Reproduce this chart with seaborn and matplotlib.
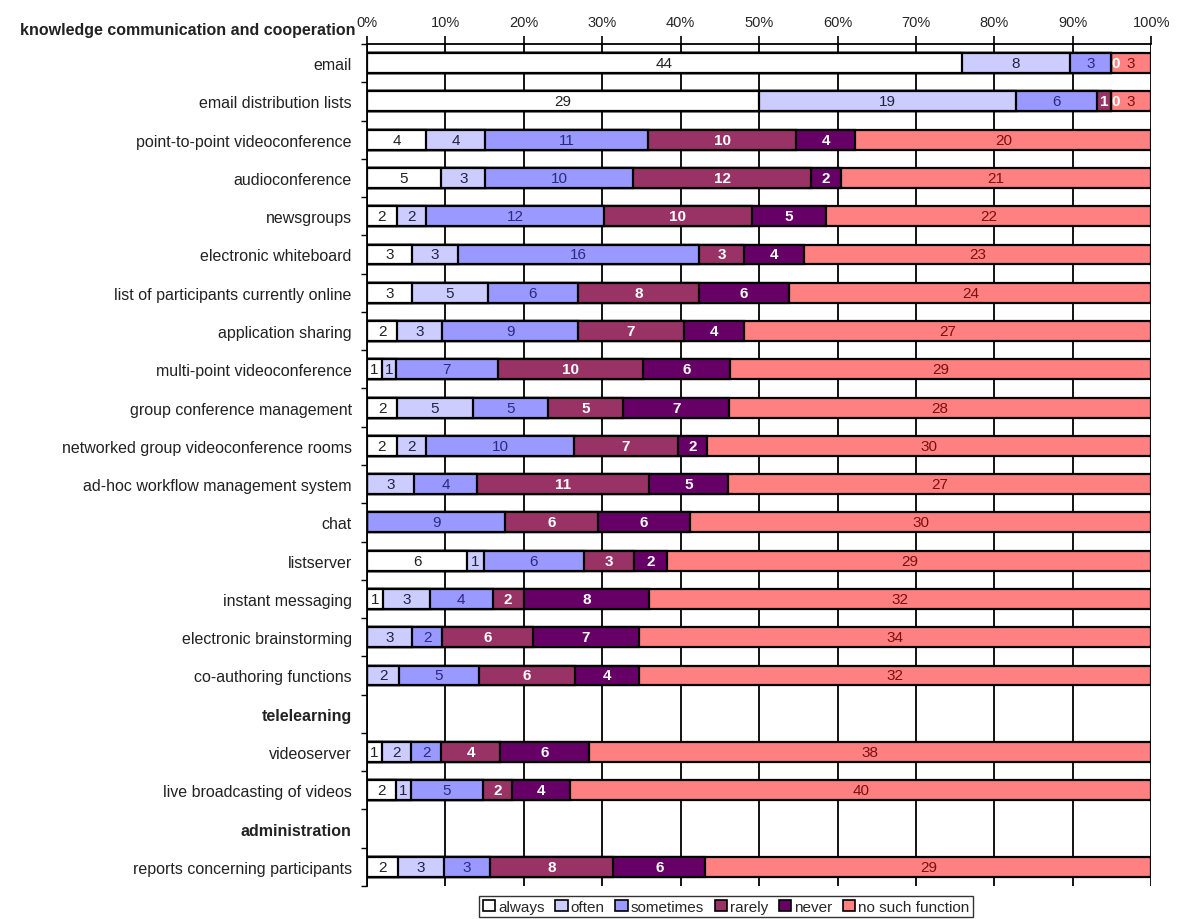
import numpy as np
import pandas as pd
import matplotlib
matplotlib.use("Agg")
import matplotlib.pyplot as plt
from matplotlib.patches import Patch
from matplotlib.ticker import FixedLocator
import seaborn as sns

categories = [
    "email", "email distribution lists", "point-to-point videoconference",
    "audioconference", "newsgroups", "electronic whiteboard",
    "list of participants currently online", "application sharing",
    "multi-point videoconference", "group conference management",
    "networked group videoconference rooms", "ad-hoc workflow management system",
    "chat", "listserver", "instant messaging", "electronic brainstorming",
    "co-authoring functions", "telelearning", "videoserver",
    "live broadcasting of videos", "administration",
    "reports concerning participants",
]
group_rows = ["telelearning", "administration"]
top_header = "knowledge communication and cooperation"

series = ["always", "often", "sometimes", "rarely", "never", "no such function"]
nan = np.nan
always    = [44, 29, 4, 5, 2, 3, 3, 2, 1, 2, 2, 0, 0, 6, 1, 0, 0, nan, 1, 2, nan, 2]
often     = [8, 19, 4, 3, 2, 3, 5, 3, 1, 5, 2, 3, 0, 1, 3, 3, 2, nan, 2, 1, nan, 3]
sometimes = [3, 6, 11, 10, 12, 16, 6, 9, 7, 5, 10, 4, 9, 6, 4, 2, 5, nan, 2, 5, nan, 3]
rarely    = [0, 1, 10, 12, 10, 3, 8, 7, 10, 5, 7, 11, 6, 3, 2, 6, 6, nan, 4, 2, nan, 8]
never     = [0, 0, 4, 2, 5, 4, 6, 4, 6, 7, 2, 5, 6, 2, 8, 7, 4, nan, 6, 4, nan, 6]
no_such   = [3, 3, 20, 21, 22, 23, 24, 27, 29, 28, 30, 27, 30, 29, 32, 34, 32, nan, 38, 40, nan, 29]

colors = ["#ffffff", "#ccccff", "#9999ff", "#993366", "#660066", "#ff8080"]
text_colors = ["#222222", "#222244", "#2a2a80", "#ffffff", "#ffffff", "#7a1010"]
text_weights = ["normal", "normal", "normal", "bold", "bold", "normal"]
show_zero = {"never"}

df = pd.DataFrame({"category": categories, "always": always, "often": often,
                   "sometimes": sometimes, "rarely": rarely, "never": never,
                   "no such function": no_such})
vals = df[series].to_numpy(dtype=float)
tot = vals.sum(axis=1, keepdims=True)
pct = vals / tot * 100
cum = np.cumsum(pct, axis=1)
for i, s in enumerate(series):
    df["cum_" + s] = cum[:, i]

sns.set_theme(style="white")
plt.rcParams["font.family"] = ["Liberation Sans", "DejaVu Sans"]

fig = plt.figure(figsize=(11.79, 9.2), dpi=100)
ax = fig.add_axes([0.3113, 0.0359, 0.6652, 0.9152])

for i in range(len(series) - 1, -1, -1):
    s = series[i]
    sns.barplot(data=df, x="cum_" + s, y="category", order=categories,
                orient="h", color=colors[i], saturation=1, edgecolor="black",
                linewidth=1.6, width=0.52, ax=ax, zorder=3)

# value labels
for r in range(len(categories)):
    if np.isnan(tot[r, 0]):
        continue
    left = 0.0
    for i, s in enumerate(series):
        v = vals[r, i]
        w = pct[r, i]
        if v > 0 or s in show_zero:
            ax.text(left + w / 2 if v > 0 else left + 0.6, r, f"{int(v)}",
                    ha="center", va="center", fontsize=11,
                    color=text_colors[i], fontweight=text_weights[i], zorder=5)
        left += w

ax.set_xlim(0, 100)
ax.set_ylim(len(categories) - 0.5, -0.5)
ax.xaxis.tick_top()
ax.set_xticks(np.arange(0, 101, 10))
ax.set_xticklabels([f"{t}%" for t in range(0, 101, 10)], fontsize=10.5)
ax.set_xlabel("")
ax.set_ylabel("")
ax.grid(axis="x", color="black", linewidth=1.3)
ax.grid(axis="y", visible=False)
ax.set_axisbelow(True)

ax.tick_params(axis="x", which="major", direction="out", length=6, width=1.2,
               color="black", pad=5, top=True, bottom=False)
ax.tick_params(axis="y", which="major", length=0, pad=11, labelsize=11.5)
ax.yaxis.set_minor_locator(FixedLocator(np.arange(-0.5, len(categories), 1.0)))
ax.tick_params(axis="y", which="minor", direction="out", length=4, width=1.0,
               color="black", left=True)
for lab in ax.get_yticklabels():
    lab.set_color("#222222")
    if lab.get_text() in group_rows:
        lab.set_fontweight("bold")

for side in ["bottom", "right"]:
    ax.spines[side].set_visible(False)
for side in ["top", "left"]:
    ax.spines[side].set_visible(True)
    ax.spines[side].set_color("black")
    ax.spines[side].set_linewidth(1.3)

ax.text(-0.015, -0.87, top_header, transform=ax.get_yaxis_transform(),
        ha="right", va="center", fontsize=11.5, fontweight="bold",
        color="#222222", clip_on=False)

handles = [Patch(facecolor=c, edgecolor="black", linewidth=1.2) for c in colors]
leg = fig.legend(handles, series, loc="center", bbox_to_anchor=(0.616, 0.0135),
                 ncol=6, fontsize=11, frameon=True, fancybox=False,
                 edgecolor="black", handlelength=0.8, handleheight=0.8,
                 handletextpad=0.2, columnspacing=0.7, borderpad=0.25,
                 borderaxespad=0)
leg.get_frame().set_linewidth(1.0)

fig.savefig("out.png", dpi=100)
